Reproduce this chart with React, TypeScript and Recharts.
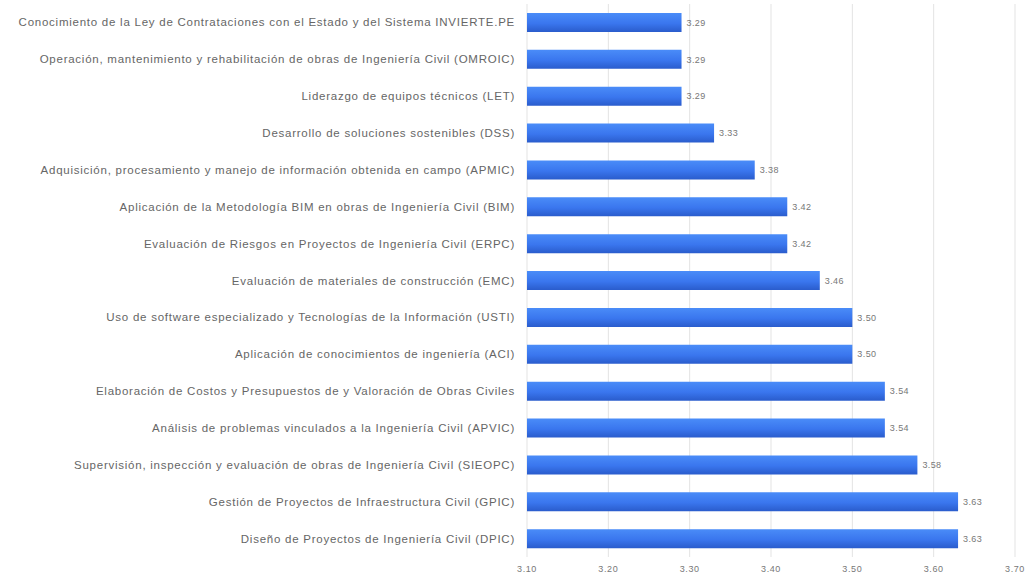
import React from "react";
import { BarChart, Bar, XAxis, YAxis, CartesianGrid, LabelList } from "recharts";

const categories = [
  "Conocimiento de la Ley de Contrataciones con el Estado y del Sistema INVIERTE.PE",
  "Operación, mantenimiento y rehabilitación de obras de Ingeniería Civil (OMROIC)",
  "Liderazgo de equipos técnicos (LET)",
  "Desarrollo de soluciones sostenibles (DSS)",
  "Adquisición, procesamiento y manejo de información obtenida en campo (APMIC)",
  "Aplicación de la Metodología BIM en obras de Ingeniería Civil (BIM)",
  "Evaluación de Riesgos en Proyectos de Ingeniería Civil (ERPC)",
  "Evaluación de materiales de construcción (EMC)",
  "Uso de software especializado y Tecnologías de la Información (USTI)",
  "Aplicación de conocimientos de ingeniería (ACI)",
  "Elaboración de Costos y Presupuestos de y Valoración de Obras Civiles",
  "Análisis de problemas vinculados a la Ingeniería Civil (APVIC)",
  "Supervisión, inspección y evaluación de obras de Ingeniería Civil (SIEOPC)",
  "Gestión de Proyectos de Infraestructura Civil (GPIC)",
  "Diseño de Proyectos de Ingeniería Civil (DPIC)",
];

const values = [3.29, 3.29, 3.29, 3.33, 3.38, 3.42, 3.42, 3.46, 3.5, 3.5, 3.54, 3.54, 3.58, 3.63, 3.63];

const xTicks = [3.1, 3.2, 3.3, 3.4, 3.5, 3.6, 3.7];

const data = categories.map((name, i) => ({ name, value: values[i] }));

const FONT = "'Liberation Sans', Arial, sans-serif";

const CategoryTick = (props: any) => {
  const { x, y, payload } = props;
  return (
    <text
      x={x - 4}
      y={y}
      dy={4}
      textAnchor="end"
      fontSize={11.5}
      fill="#666"
      fontFamily={FONT}
      letterSpacing={0.75}
    >
      {payload.value}
    </text>
  );
};

const ValueTick = (props: any) => {
  const { x, y, payload } = props;
  return (
    <text
      x={x}
      y={y}
      dy={7}
      textAnchor="middle"
      fontSize={9}
      fill="#777"
      fontFamily={FONT}
      letterSpacing={0.6}
    >
      {Number(payload.value).toFixed(2)}
    </text>
  );
};

export default function App() {
  return (
    <div style={{ position: "absolute", left: 0, top: 0, background: "#fff" }}>
      <BarChart
        width={1035}
        height={576}
        data={data}
        layout="vertical"
        margin={{ top: 4, right: 20, bottom: 0, left: 0 }}
      >
        <defs>
          <linearGradient id="barGrad" x1="0" y1="0" x2="0" y2="1">
            <stop offset="0%" stopColor="#4a8cf8" />
            <stop offset="55%" stopColor="#3a76ee" />
            <stop offset="100%" stopColor="#2a5ccc" />
          </linearGradient>
        </defs>
        <CartesianGrid horizontal={false} stroke="#e3e3e3" />
        <XAxis
          type="number"
          domain={[3.1, 3.7]}
          ticks={xTicks}
          allowDataOverflow
          axisLine={false}
          tickLine={false}
          height={19}
          tick={<ValueTick />}
        />
        <YAxis
          type="category"
          dataKey="name"
          width={527}
          axisLine={false}
          tickLine={false}
          interval={0}
          tick={<CategoryTick />}
        />
        <Bar dataKey="value" fill="url(#barGrad)" barSize={19} isAnimationActive={false}>
          <LabelList
            dataKey="value"
            position="right"
            offset={5}
            formatter={(v: number) => v.toFixed(2)}
            style={{ fontSize: 9, fill: "#777", fontFamily: FONT, letterSpacing: 0.4 }}
          />
        </Bar>
      </BarChart>
    </div>
  );
}
